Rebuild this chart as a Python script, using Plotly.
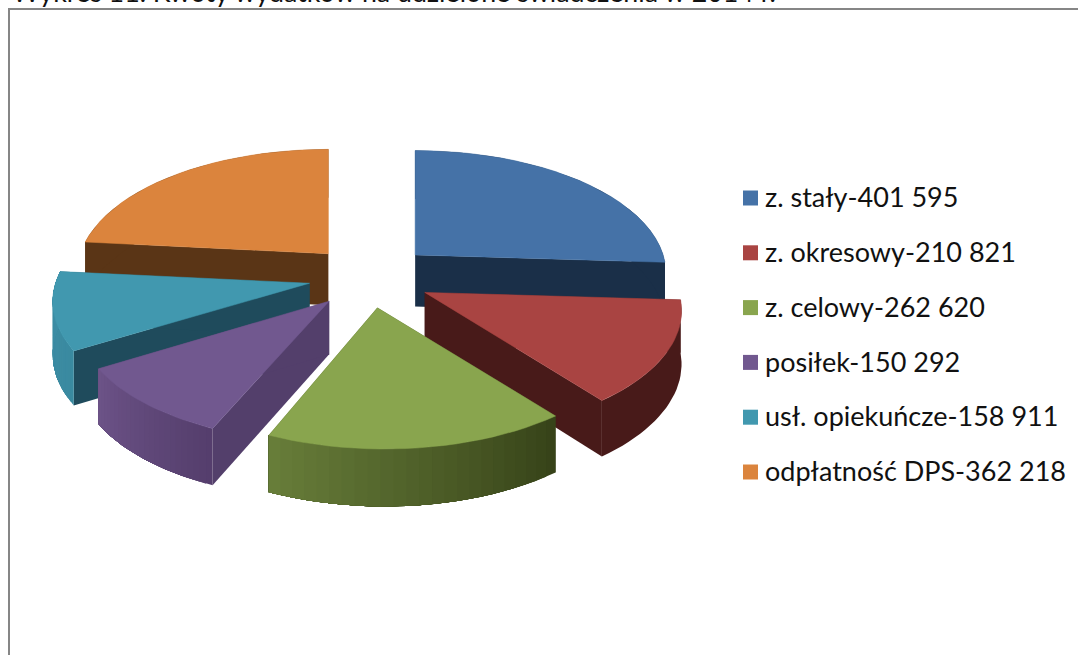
import math
import plotly.graph_objects as go

# ---- data ----
categories = ["z. stały", "z. okresowy", "z. celowy", "posiłek", "usł. opiekuńcze", "odpłatność DPS"]
values = [401595, 210821, 262620, 150292, 158911, 362218]
value_labels = ["401 595", "210 821", "262 620", "150 292", "158 911", "362 218"]
title_text = "Wykres 11. Kwoty wydatków na udzielone świadczenia w 2014 r."

# ---- styles ----
top_colors = ["#4572a7", "#a94442", "#89a54e", "#71588f", "#4198af", "#db843d"]
radial_wall = ["#1a2f48", "#481a19", "#3a431b", "#533f6b", "#1f4b5c", "#5a3516"]
rim_start = ["#1a2f48", "#481a19", "#364218", "#553e6c", "#3a8aa0", "#5a3516"]
rim_end = ["#1a2f48", "#481a19", "#687e3a", "#6c5388", "#3d8da5", "#5a3516"]
rim_dx = [0, 6, 7, -1, -6, 0]   # small horizontal correction of each slice's arc
draw_order = [5, 0, 4, 3, 1, 2]
FONT = "Lato"
CX, CY = 370, 270       # pie centre on the page
RX, RY, K = 248, 120, 0.15    # ellipse radii and perspective
EX, EF, EB = 62, 38, 22       # explosion offsets
W, H = 1078, 655


def hex2rgb(c):
    return [int(c[i:i + 2], 16) for i in (1, 3, 5)]


def mix(a, b, t):
    pa, pb = hex2rgb(a), hex2rgb(b)
    return "rgb(%d,%d,%d)" % tuple(round(p + (q - p) * t) for p, q in zip(pa, pb))


def depth(y):
    return 53 + (y - 300) * 0.03


def rim(ax, ay, deg):
    r = math.radians(deg)
    X, Y = math.sin(r), -math.cos(r)
    s = 1 / (1 - K * Y)
    return ax + RX * X * s, ay + RY * Y * s


def poly(fig, pts, color, lw=0.0):
    xs = [p[0] for p in pts] + [pts[0][0]]
    ys = [p[1] for p in pts] + [pts[0][1]]
    fig.add_trace(go.Scatter(x=xs, y=ys, mode="lines", fill="toself", fillcolor=color,
                             line=dict(color=color, width=lw), hoverinfo="skip", showlegend=False))


total = sum(values)
angles = [0]
for v in values:
    angles.append(angles[-1] + 360 * v / total)

fig = go.Figure()
STEPS = 24
for i in draw_order:
    a0, a1 = angles[i], angles[i + 1]
    mid = math.radians((a0 + a1) / 2)
    c = math.cos(mid)
    ax = CX + EX * math.sin(mid)
    ay = CY + (EF * abs(c) ** 0.7 if c < 0 else -EB * c)
    arc = [rim(ax + rim_dx[i], ay, a0 + (a1 - a0) * j / STEPS) for j in range(STEPS + 1)]
    # radial walls
    for end in (arc[0], arc[-1]):
        poly(fig, [(ax, ay), end, (end[0], end[1] + depth(end[1])), (ax, ay + depth(ay))], radial_wall[i])
    # outer wall: each band is painted over the rest of the arc, so no seams show
    bands = STEPS if rim_start[i] != rim_end[i] else 1
    for j in range(bands):
        part = arc[j * STEPS // bands:]
        lower = [(p[0], p[1] + depth(p[1])) for p in reversed(part)]
        poly(fig, part + lower, mix(rim_start[i], rim_end[i], (j + 0.5) / bands))
    # top face
    poly(fig, [(ax, ay)] + arc, top_colors[i], 0.5)

# legend
legend_y = [198 + 54.8 * n for n in range(len(categories))]
fig.add_trace(go.Scatter(
    x=[750.5] * len(categories), y=legend_y, mode="markers",
    marker=dict(symbol="square", size=15, color=top_colors, line=dict(width=0)),
    cliponaxis=False, hoverinfo="skip", showlegend=False))
fig.add_trace(go.Scatter(
    x=[765] * len(categories), y=[v + 2.5 for v in legend_y], mode="text",
    text=[f"{c}-{v}" for c, v in zip(categories, value_labels)],
    textposition="middle right",
    textfont=dict(family=FONT, size=27, color="#111111"),
    cliponaxis=False, hoverinfo="skip", showlegend=False))

fig.update_layout(
    width=W, height=H, margin=dict(l=0, r=0, t=0, b=0),
    paper_bgcolor="white", plot_bgcolor="white", showlegend=False,
    xaxis=dict(range=[0, W], visible=False, fixedrange=True),
    yaxis=dict(range=[H, 0], visible=False, fixedrange=True),
    shapes=[
        dict(type="line", xref="x", yref="y", x0=8, y0=9, x1=W, y1=9, line=dict(color="#868686", width=2)),
        dict(type="line", xref="x", yref="y", x0=9, y0=8, x1=9, y1=H, line=dict(color="#868686", width=2)),
    ],
    annotations=[dict(text=title_text, xref="x", yref="y", x=10, y=10, xanchor="left", yanchor="bottom",
                      showarrow=False, font=dict(family=FONT, size=26.8, color="#111111"))],
)
fig.write_html("out.html", config={"displayModeBar": False},
               post_script="document.body.style.margin='0';document.documentElement.style.overflow='hidden';")
